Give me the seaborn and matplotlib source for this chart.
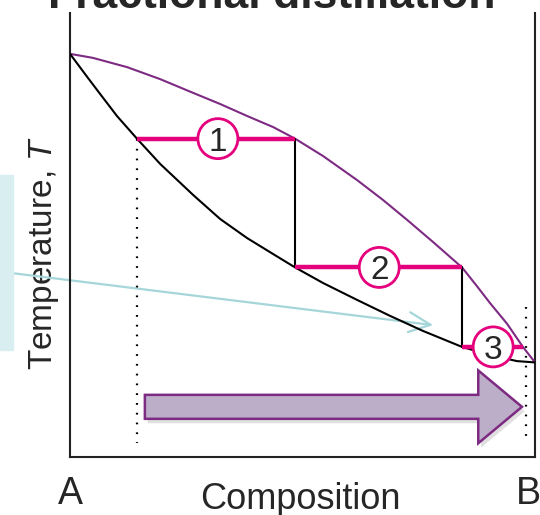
import numpy as np
import pandas as pd
import matplotlib
matplotlib.use("Agg")
import matplotlib.pyplot as plt
from matplotlib.patches import FancyArrow, Ellipse, Rectangle
import seaborn as sns

# Curvas do diagrama (composição 0=A, 1=B; temperatura em escala arbitrária)
liq_x = [0.0, 0.037, 0.0645, 0.101, 0.144, 0.194, 0.265, 0.323, 0.381, 0.437, 0.484,
         0.544, 0.617, 0.688, 0.759, 0.843, 0.903, 0.961, 1.0]
liq_t = [90.8, 85.6, 81.8, 76.8, 71.7, 66.0, 59.0, 53.6, 49.3, 45.7, 42.7,
         39.2, 35.4, 31.8, 28.4, 24.8, 23.0, 21.6, 21.3]
vap_x = [0.0, 0.049, 0.123, 0.194, 0.265, 0.323, 0.381, 0.437, 0.484, 0.544, 0.617,
         0.673, 0.725, 0.781, 0.843, 0.875, 0.903, 0.940, 0.974, 1.0]
vap_t = [90.8, 89.9, 87.8, 85.1, 82.0, 79.5, 76.8, 74.3, 71.7, 67.8, 62.4,
         57.9, 53.4, 48.4, 42.7, 38.5, 34.7, 30.0, 24.8, 21.3]

# Degraus da destilação fracionada
step_t = [71.7, 42.7, 24.8]
step_liq = [0.144, 0.484, 0.843]
step_vap = [0.484, 0.843, 0.974]
step_label_x = [0.318, 0.665, 0.910]
step_labels = ["1", "2", "3"]

# Linhas pontilhadas (composição inicial e final)
dot_x = [0.144, 0.981]
dot_top = [71.6, 33.8]
dot_bottom = 3.2

tick_pos = [0, 0.985]
tick_labels = ["A", "B"]

MAGENTA = "#e5007d"
PURPLE = "#7d2a82"
CYAN = "#a6d6da"

sns.set_theme(style="white")
plt.rcParams["font.family"] = ["Liberation Sans", "DejaVu Sans"]
plt.rcParams["mathtext.fontset"] = "custom"
plt.rcParams["mathtext.rm"] = "Liberation Sans"
plt.rcParams["mathtext.it"] = "Liberation Sans:italic"

fig = plt.figure(figsize=(5.4, 5.15), dpi=100)
ax = fig.add_axes([70 / 540, 1 - 457 / 515, 465 / 540, 444 / 515])
ax.set_xlim(0, 1)
ax.set_ylim(0, 100)

# caixa azul clara à esquerda
fig.patches.append(Rectangle((0, 1 - 350 / 515), 13 / 540, 175 / 515,
                             transform=fig.transFigure, color="#d9eef0", zorder=0))

sns.lineplot(x=vap_x, y=vap_t, sort=False, color=PURPLE, lw=1.5, ax=ax, zorder=3)
sns.lineplot(x=liq_x, y=liq_t, sort=False, color="black", lw=1.5, ax=ax, zorder=3)

for i in range(3):
    ax.plot([step_liq[i], step_vap[i]], [step_t[i], step_t[i]], color=MAGENTA,
            lw=3.2, solid_capstyle="butt", zorder=4)
    if i < 2:
        ax.plot([step_vap[i], step_vap[i]], [step_t[i], step_t[i + 1]],
                color="black", lw=1.5, zorder=3)
    # círculo com número (elipse em dados = círculo em pixels)
    ax.add_patch(Ellipse((step_label_x[i], step_t[i]), 40 / 465, 40 / 4.44,
                         facecolor="white", edgecolor=MAGENTA, lw=2, zorder=5))
    ax.text(step_label_x[i], step_t[i], step_labels[i], fontsize=24, ha="center",
            va="center_baseline", zorder=6)

for xx, top in zip(dot_x, dot_top):
    ax.plot([xx, xx], [top, dot_bottom], color="black", lw=1.6,
            linestyle=(0, (0.8, 3.6)), zorder=2)

# seta grande roxa (com sombra)
shadow = FancyArrow(0.161 + 0.006, 11.3 - 1.0, 0.811, 0, width=5.4, head_width=16.4,
                    head_length=0.094, length_includes_head=True,
                    facecolor="#cccccc", edgecolor="none", alpha=0.6, zorder=2)
ax.add_patch(shadow)
arrow = FancyArrow(0.161, 11.3, 0.811, 0, width=5.4, head_width=16.4,
                   head_length=0.094, length_includes_head=True,
                   facecolor="#bcaec8", edgecolor=PURPLE, lw=1.8, zorder=3)
ax.add_patch(arrow)

# seta azul
ax.annotate("", xy=(0.781, 29.7), xytext=(-0.123, 41.4), annotation_clip=False,
            arrowprops=dict(arrowstyle="->,head_length=1.3,head_width=0.6", color=CYAN,
                            lw=1.6, shrinkA=0, shrinkB=0), zorder=1)

ax.set_xticks(tick_pos, tick_labels, fontsize=27)
ax.tick_params(axis="x", length=0, pad=14)
ax.set_yticks([])
ax.set_xlabel("Composition", fontsize=26, va="baseline")
ax.xaxis.set_label_coords(0.495, -0.117)
ax.set_ylabel("Temperature, $\\mathit{T}$", fontsize=24)
ax.yaxis.set_label_coords(-0.055, 0.459)
ax.yaxis.label.set_va("center")

for side in ["left", "right", "bottom"]:
    ax.spines[side].set_color("#222222")
    ax.spines[side].set_linewidth(1.5)
ax.spines["top"].set_visible(False)

ax.set_title("Fractional distillation", fontsize=32, fontweight="bold",
             x=0.434, y=(457 - 8) / 444, va="baseline", pad=0)

fig.savefig("out.png", dpi=100)
